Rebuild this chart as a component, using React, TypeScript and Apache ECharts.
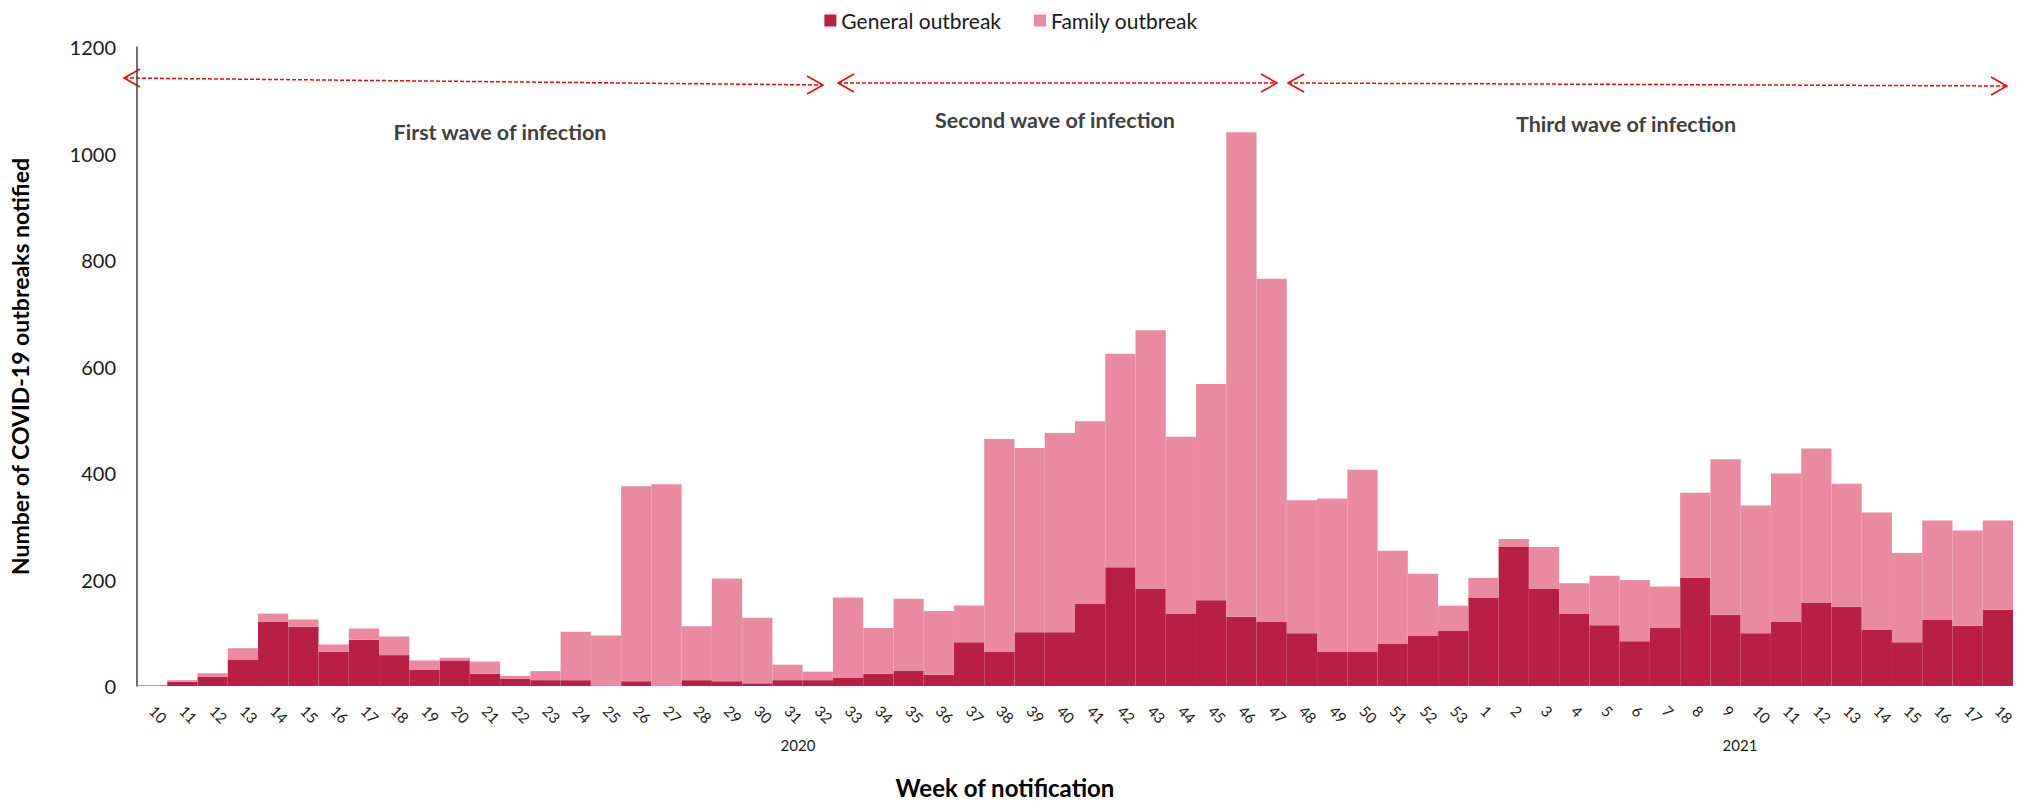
import React, { useEffect, useRef } from "react";
import * as echarts from "echarts";

const weeks2020 = [10, 11, 12, 13, 14, 15, 16, 17, 18, 19, 20, 21, 22, 23, 24, 25, 26, 27, 28, 29, 30, 31, 32, 33, 34, 35, 36, 37, 38, 39, 40, 41, 42, 43, 44, 45, 46, 47, 48, 49, 50, 51, 52, 53];
const weeks2021 = [1, 2, 3, 4, 5, 6, 7, 8, 9, 10, 11, 12, 13, 14, 15, 16, 17, 18];
const yearLabels = ["2020", "2021"];

const generalOutbreak = [
  1, 8, 17, 50, 121, 111, 64, 87, 58, 30, 48, 23, 13, 11, 11, 1, 9, 0, 11, 9, 5, 11, 11, 16, 23, 29, 21, 82, 64, 101, 101, 154, 223, 183, 136, 161, 130, 121, 99, 64, 65, 80, 95, 104,
  166, 261, 183, 136, 114, 84, 110, 203, 134, 99, 121, 157, 149, 105, 82, 124, 113, 143,
];
const familyOutbreak = [
  1, 3, 7, 21, 15, 14, 14, 21, 35, 18, 5, 23, 6, 17, 91, 94, 366, 379, 101, 193, 123, 29, 16, 150, 86, 135, 120, 69, 400, 346, 374, 343, 401, 485, 332, 406, 910, 644, 250, 288, 341, 174, 116, 47,
  37, 15, 78, 57, 93, 115, 77, 160, 292, 240, 278, 289, 231, 221, 168, 187, 179, 168,
];

const waveLabels = ["First wave of infection", "Second wave of infection", "Third wave of infection"];
const xTitle = "Week of notification";

const FONT = "Lato, 'Open Sans', sans-serif";

export default function App() {
  const ref = useRef<HTMLDivElement>(null);

  useEffect(() => {
    document.body.style.margin = "0";
    if (!ref.current) return;
    const chart = echarts.init(ref.current, undefined, { renderer: "svg" });

    const categories = [
      ...weeks2020.map((w) => `${yearLabels[0]}-${w}`),
      ...weeks2021.map((w) => `${yearLabels[1]}-${w}`),
    ];

    const arrow = (x1: number, y1: number, x2: number, y2: number) => {
      const len = 16;
      const h = 9;
      return [
        {
          type: "line",
          shape: { x1, y1, x2, y2 },
          style: { stroke: "#FF0000", lineWidth: 1.5, lineDash: [4, 2] },
          silent: true,
        },
        {
          type: "polyline",
          shape: { points: [[x1 + len, y1 - h], [x1, y1], [x1 + len, y1 + h]] },
          style: { stroke: "#FF0000", lineWidth: 1.5, fill: null },
          silent: true,
        },
        {
          type: "polyline",
          shape: { points: [[x2 - len, y2 - h], [x2, y2], [x2 - len, y2 + h]] },
          style: { stroke: "#FF0000", lineWidth: 1.5, fill: null },
          silent: true,
        },
      ];
    };

    const text = (t: string, x: number, y: number, font: string, fill: string) => ({
      type: "text",
      x,
      y,
      style: {
        text: t,
        font,
        fill,
        textAlign: "center",
        textVerticalAlign: "middle",
      },
      silent: true,
    });

    chart.setOption({
      animation: false,
      textStyle: { fontFamily: FONT },
      legend: {
        top: 5,
        left: "center",
        itemWidth: 12,
        itemHeight: 12,
        itemGap: 33,
        icon: "rect",
        textStyle: { fontSize: 21, color: "#1a1a1a", fontFamily: FONT },
        data: ["General outbreak", "Family outbreak"],
      },
      grid: { left: 129, right: 9, top: 47, bottom: 116, containLabel: false },
      xAxis: {
        type: "category",
        data: categories,
        axisLine: { show: false },
        axisTick: { show: false },
        axisLabel: {
          interval: 0,
          rotate: -45,
          margin: 22,
          fontSize: 15,
          color: "#1a1a1a",
          fontFamily: FONT,
          formatter: (v: string) => v.split("-")[1],
        },
      },
      yAxis: {
        type: "value",
        min: 0,
        max: 1200,
        interval: 200,
        axisLine: { show: true, lineStyle: { color: "#404040", width: 1.5 } },
        axisTick: { show: false },
        splitLine: { show: false },
        axisLabel: {
          fontSize: 20,
          color: "#1a1a1a",
          margin: 21,
          fontFamily: FONT,
          formatter: (v: number) => String(v),
        },
        name: "Number of COVID-19 outbreaks notified",
        nameLocation: "middle",
        nameGap: 106,
        nameTextStyle: { fontSize: 23, fontWeight: "bold", color: "#000", fontFamily: FONT },
      },
      series: [
        {
          name: "General outbreak",
          type: "bar",
          stack: "total",
          barCategoryGap: "0%",
          itemStyle: { color: "#B91F45" },
          data: generalOutbreak,
        },
        {
          name: "Family outbreak",
          type: "bar",
          stack: "total",
          barCategoryGap: "0%",
          itemStyle: { color: "#EA8AA1" },
          data: familyOutbreak,
        },
      ],
      graphic: [
        ...arrow(124, 78, 823, 85),
        ...arrow(838, 83, 1277, 83),
        ...arrow(1288, 83, 2007, 86),
        text(waveLabels[0], 500, 132, `bold 21.5px ${FONT}`, "#404040"),
        text(waveLabels[1], 1055, 120, `bold 21.5px ${FONT}`, "#404040"),
        text(waveLabels[2], 1626, 124, `bold 21.5px ${FONT}`, "#404040"),
        text(yearLabels[0], 798, 745, `15px ${FONT}`, "#1a1a1a"),
        text(yearLabels[1], 1740, 745, `15px ${FONT}`, "#1a1a1a"),
        text(xTitle, 1005, 787, `bold 24px ${FONT}`, "#000"),
      ],
    });

    return () => chart.dispose();
  }, []);

  return <div ref={ref} style={{ width: 2022, height: 802 }} />;
}
